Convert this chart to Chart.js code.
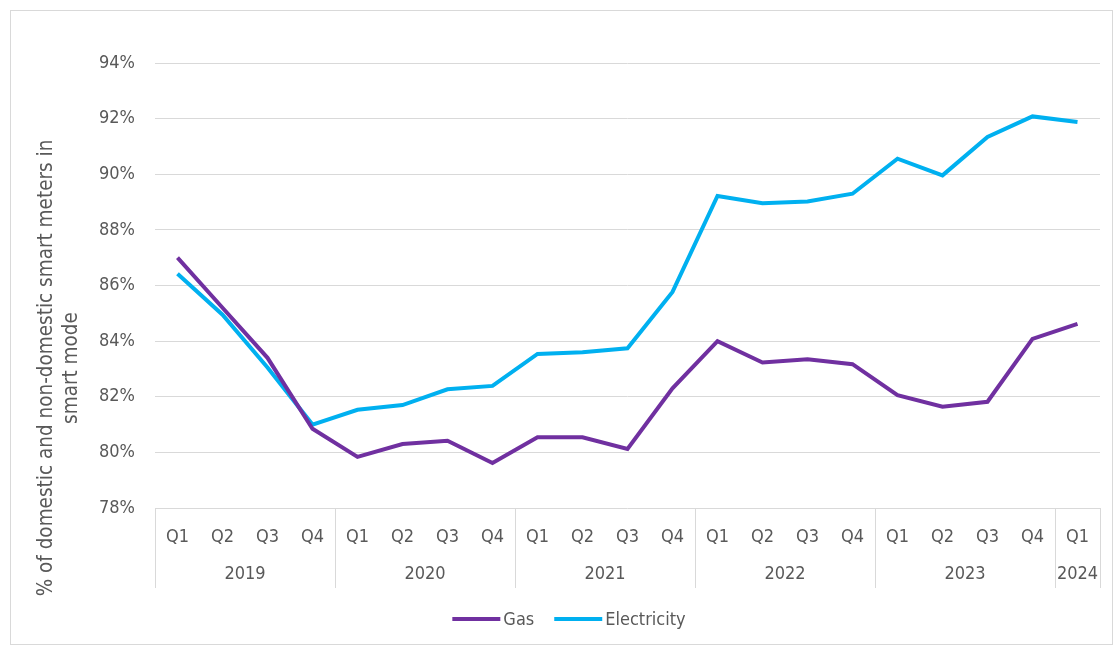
<!DOCTYPE html>
<html>
<head>
<meta charset="utf-8">
<script src="https://cdn.jsdelivr.net/npm/chart.js@4/dist/chart.umd.min.js"></script>
<style>
  html, body { margin: 0; padding: 0; background: #fff; }
  #wrap { position: absolute; left: 0; top: 0; width: 1113px; height: 646px; }
</style>
</head>
<body>
<div id="wrap"><canvas id="chart"></canvas></div>
<script>
const quarters = ['Q1','Q2','Q3','Q4','Q1','Q2','Q3','Q4','Q1','Q2','Q3','Q4','Q1','Q2','Q3','Q4','Q1','Q2','Q3','Q4','Q1'];
const years = ['2019', '2020', '2021', '2022', '2023', '2024'];
const yearSpans = [4, 4, 4, 4, 4, 1];
const gas = [87.0, 85.2, 83.4, 80.85, 79.84, 80.3, 80.42, 79.62, 80.54, 80.54, 80.12, 82.3,
             84.0, 83.23, 83.35, 83.17, 82.06, 81.64, 81.82, 84.08, 84.62];
const electricity = [86.42, 84.95, 83.05, 81.0, 81.53, 81.7, 82.27, 82.39, 83.54, 83.6, 83.74, 85.77,
                     89.22, 88.96, 89.02, 89.3, 90.56, 89.96, 91.34, 92.08, 91.88];
const yTitle = ['% of domestic and non-domestic smart meters in', 'smart mode'];

const FONT = '"DejaVu Sans Condensed", "Liberation Sans", sans-serif';
const TEXT = '#595959';
const GRID = '#d9d9d9';
const AXIS_H = 90;

// year row, group dividers, axis title, legend and frame
const extras = {
    id: 'extras',
    afterDraw(chart) {
        const ctx = chart.ctx;
        const x = chart.scales.x;
        const area = chart.chartArea;
        const n = quarters.length;
        const edge = i => {
            if (i <= 0) return x.left;
            if (i >= n) return x.right;
            return (x.getPixelForTick(i - 1) + x.getPixelForTick(i)) / 2;
        };
        ctx.save();
        ctx.strokeStyle = GRID;
        ctx.lineWidth = 1;
        ctx.fillStyle = TEXT;
        ctx.font = '18px ' + FONT;
        ctx.textAlign = 'center';
        ctx.textBaseline = 'middle';
        let start = 0;
        for (let g = 0; g <= years.length; g++) {
            const px = Math.round(edge(start)) + 0.5;
            ctx.beginPath();
            ctx.moveTo(px, area.bottom);
            ctx.lineTo(px, area.bottom + 80);
            ctx.stroke();
            if (g < years.length) {
                const end = start + yearSpans[g];
                ctx.fillText(years[g], (edge(start) + edge(end)) / 2, area.bottom + 66);
                start = end;
            }
        }

        // axis title
        ctx.save();
        ctx.translate(47, 368);
        ctx.rotate(-Math.PI / 2);
        ctx.font = '20.5px ' + FONT;
        ctx.fillText(yTitle[0], 0, 0);
        ctx.fillText(yTitle[1], 0, 25);
        ctx.restore();

        // legend
        ctx.font = '18px ' + FONT;
        ctx.textAlign = 'left';
        const sets = chart.data.datasets;
        const lineLen = 48, gapText = 3, gapItem = 20;
        const widths = sets.map(d => lineLen + gapText + ctx.measureText(d.label).width);
        const total = widths.reduce((a, b) => a + b, 0) + gapItem * (sets.length - 1);
        let lx = 569 - total / 2;
        const ly = 619;
        sets.forEach((d, i) => {
            ctx.strokeStyle = d.borderColor;
            ctx.lineWidth = 4;
            ctx.beginPath();
            ctx.moveTo(lx, ly);
            ctx.lineTo(lx + lineLen, ly);
            ctx.stroke();
            ctx.fillText(d.label, lx + lineLen + gapText, ly + 1);
            lx += widths[i] + gapItem;
        });

        // frame
        ctx.strokeStyle = GRID;
        ctx.lineWidth = 1;
        ctx.strokeRect(10.5, 10.5, chart.width - 11, chart.height - 12);
        ctx.restore();
    }
};

new Chart(document.getElementById('chart'), {
    type: 'line',
    data: {
        labels: quarters,
        datasets: [
            { label: 'Gas', data: gas, borderColor: '#7030a0', backgroundColor: '#7030a0',
              borderWidth: 4, pointRadius: 0, tension: 0 },
            { label: 'Electricity', data: electricity, borderColor: '#00b0f0', backgroundColor: '#00b0f0',
              borderWidth: 4, pointRadius: 0, tension: 0 }
        ]
    },
    options: {
        responsive: true,
        maintainAspectRatio: false,
        animation: false,
        layout: { padding: { top: 63, right: 13, left: 0, bottom: 48 } },
        plugins: {
            legend: { display: false },
            tooltip: { enabled: false }
        },
        scales: {
            x: {
                offset: true,
                grid: { display: false },
                border: { display: false },
                ticks: { color: TEXT, font: { family: FONT, size: 18 }, padding: 11, maxRotation: 0, autoSkip: false },
                afterFit(s) { s.height = AXIS_H; }
            },
            y: {
                min: 78, max: 94,
                grid: { color: GRID, drawTicks: false },
                border: { display: false },
                ticks: { stepSize: 2, color: TEXT, padding: 20, font: { family: FONT, size: 18 },
                         callback: v => v + '%' },
                afterFit(s) { s.width = 155; }
            }
        }
    },
    plugins: [extras]
});
</script>
</body>
</html>
